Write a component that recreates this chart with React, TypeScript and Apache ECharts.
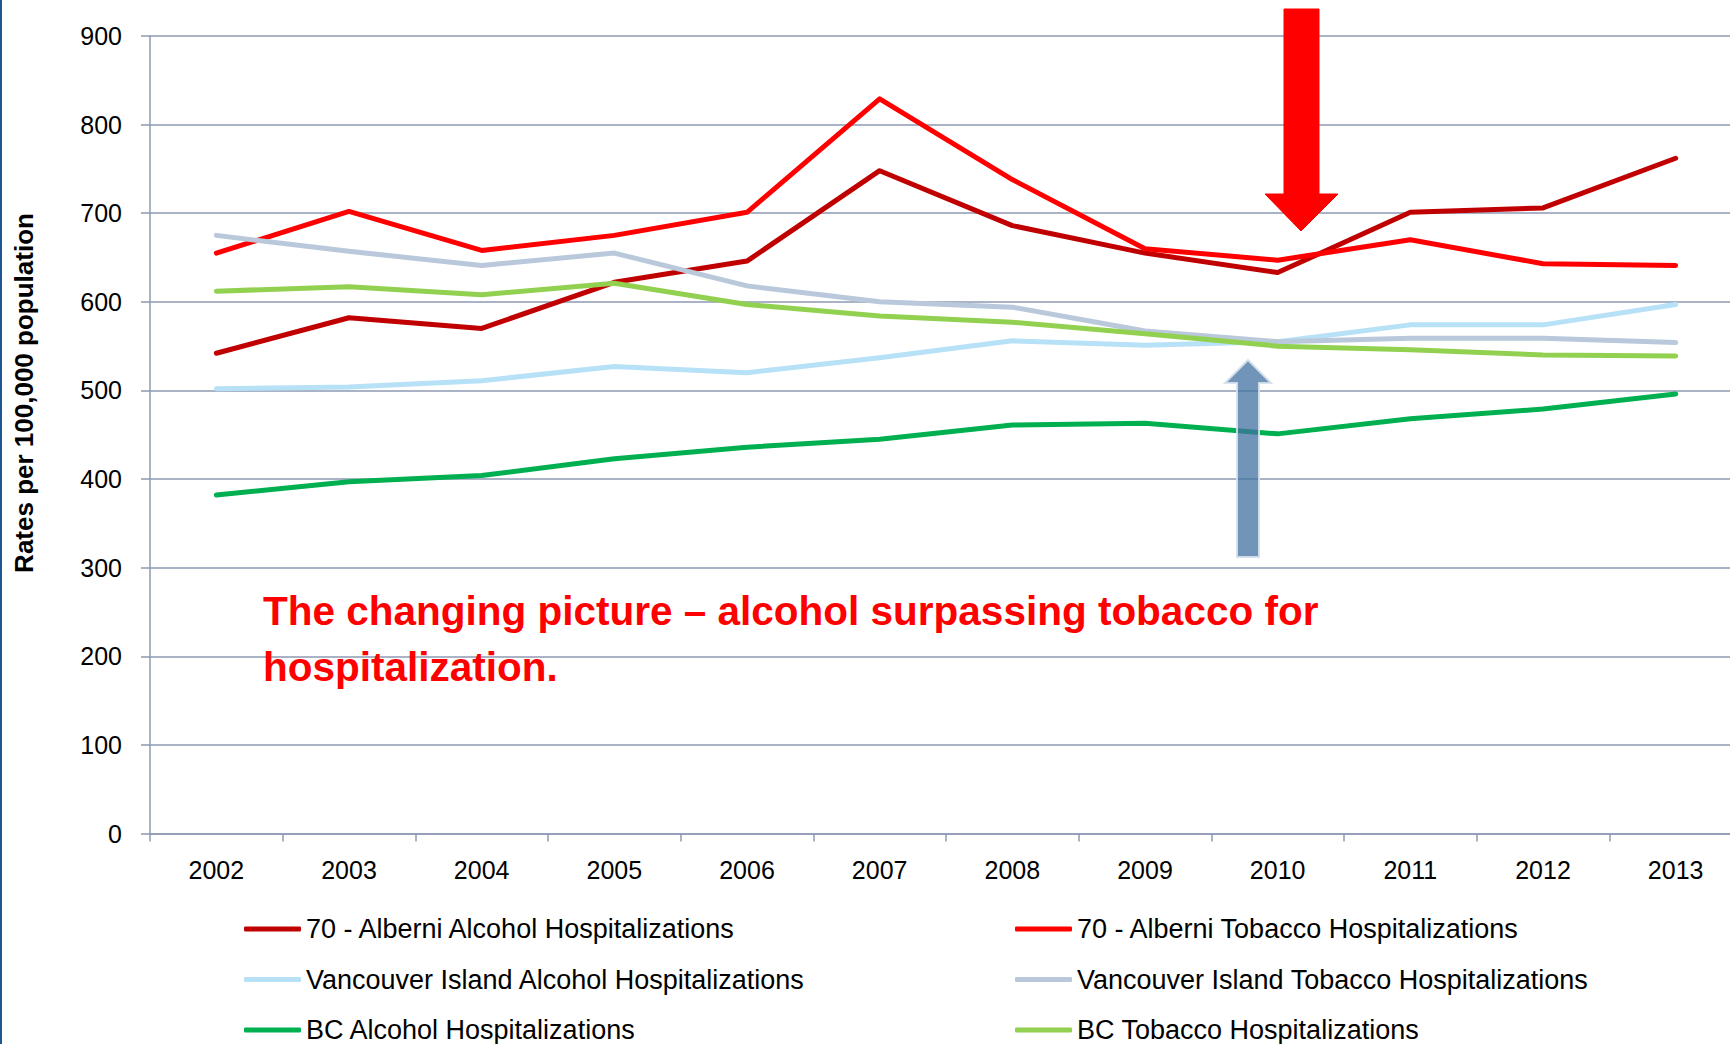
import React, { useEffect, useRef } from "react";
import * as echarts from "echarts";

const years = ["2002", "2003", "2004", "2005", "2006", "2007", "2008", "2009", "2010", "2011", "2012", "2013"];
const yTicks = { min: 0, max: 900, interval: 100 };

const alberniAlcohol = [542, 582, 570, 622, 646, 748, 686, 655, 633, 701, 706, 762];
const alberniTobacco = [655, 702, 658, 675, 701, 829, 738, 660, 647, 670, 643, 641];
const viAlcohol = [502, 504, 511, 527, 520, 537, 556, 551, 555, 574, 574, 597];
const viTobacco = [675, 657, 641, 655, 618, 600, 594, 567, 555, 559, 559, 554];
const bcAlcohol = [382, 397, 404, 423, 436, 445, 461, 463, 451, 468, 479, 496];
const bcTobacco = [612, 617, 608, 621, 597, 584, 577, 564, 550, 546, 540, 539];

const seriesNames = [
  "70 - Alberni Alcohol Hospitalizations",
  "70 - Alberni Tobacco Hospitalizations",
  "Vancouver Island Alcohol Hospitalizations",
  "Vancouver Island Tobacco Hospitalizations",
  "BC Alcohol Hospitalizations",
  "BC Tobacco Hospitalizations",
];
const seriesData = [alberniAlcohol, alberniTobacco, viAlcohol, viTobacco, bcAlcohol, bcTobacco];
const seriesColors = ["#C00000", "#FF0000", "#B7E1F7", "#B9C8DA", "#00B050", "#92D050"];

const yAxisTitle = "Rates per 100,000 population";
const annotation = "The changing picture \u2013 alcohol surpassing tobacco for\nhospitalization.";

const FONT = "'Liberation Sans', Arial, sans-serif";
const GRID_COLOR = "#8E9AB3";

export default function App() {
  const ref = useRef<HTMLDivElement>(null);

  useEffect(() => {
    if (!ref.current) return;
    const chart = echarts.init(ref.current, null, { renderer: "svg" });

    const legendText = { fontSize: 27, fontFamily: FONT, color: "#000", lineHeight: 30 };
    const legendCols = [244, 1015];
    const legendRows = [929, 979.5, 1030];

    const legends = seriesNames.map((name, i) => ({
      orient: "horizontal",
      left: legendCols[i % 2],
      top: legendRows[Math.floor(i / 2)] - 15,
      padding: 0,
      itemWidth: 57,
      itemHeight: 5,
      icon: "roundRect",
      data: [name],
      textStyle: legendText,
      selectedMode: false,
    }));

    const option: any = {
      animation: false,
      backgroundColor: "#ffffff",
      grid: { left: 150, top: 36, right: 0, bottom: 210.5, containLabel: false },
      xAxis: {
        type: "category",
        data: years,
        boundaryGap: true,
        axisLine: { show: true, lineStyle: { color: GRID_COLOR, width: 1.5 } },
        axisTick: { show: true, length: 8, interval: 0, lineStyle: { color: GRID_COLOR, width: 1.5 } },
        axisLabel: { interval: 0, margin: 24, fontSize: 25, fontFamily: FONT, color: "#000" },
        splitLine: { show: false },
      },
      yAxis: {
        type: "value",
        min: yTicks.min,
        max: yTicks.max,
        interval: yTicks.interval,
        axisLine: { show: true, lineStyle: { color: GRID_COLOR, width: 1.5 } },
        axisTick: { show: true, length: 9, lineStyle: { color: GRID_COLOR, width: 1.5 } },
        axisLabel: { margin: 28, fontSize: 25, fontFamily: FONT, color: "#000" },
        splitLine: { show: true, lineStyle: { color: GRID_COLOR, width: 1.5 } },
      },
      legend: legends,
      series: seriesNames.map((name, i) => ({
        name,
        type: "line",
        data: seriesData[i],
        showSymbol: false,
        symbol: "none",
        color: seriesColors[i],
        lineStyle: { color: seriesColors[i], width: 5, cap: "round", join: "round" },
        itemStyle: { color: seriesColors[i] },
      })),
      graphic: [
        {
          type: "rect",
          left: 0,
          top: 0,
          shape: { x: 0, y: 0, width: 2, height: 1044 },
          style: { fill: "#1F5592" },
          z: 100,
        },
        {
          type: "text",
          x: 24,
          y: 393,
          rotation: Math.PI / 2,
          style: {
            text: yAxisTitle,
            font: `bold 26px ${FONT}`,
            fill: "#000",
            textAlign: "center",
            textVerticalAlign: "middle",
          },
          z: 100,
        },
        {
          type: "text",
          x: 263,
          y: 583,
          style: {
            text: annotation,
            font: `bold 40.5px ${FONT}`,
            fill: "#FF0000",
            lineHeight: 56,
            textAlign: "left",
            textVerticalAlign: "top",
          },
          z: 100,
        },
        {
          type: "polygon",
          shape: {
            points: [
              [1284, 9],
              [1319, 9],
              [1319, 194],
              [1338, 194],
              [1301, 231],
              [1265, 194],
              [1284, 194],
            ],
          },
          style: { fill: "#FF0000", stroke: "#FF0000", lineWidth: 1 },
          z: 100,
        },
        {
          type: "polygon",
          shape: {
            points: [
              [1237, 557],
              [1259, 557],
              [1259, 383],
              [1271, 383],
              [1248, 360],
              [1225, 383],
              [1237, 383],
            ],
          },
          style: { fill: "rgba(65,113,160,0.75)", stroke: "rgba(214,224,236,0.9)", lineWidth: 2 },
          z: 100,
        },
      ],
    };

    chart.setOption(option);
    return () => chart.dispose();
  }, []);

  return (
    <div
      style={{
        position: "fixed",
        left: 0,
        top: 0,
        width: 1730,
        height: 1044,
        overflow: "hidden",
        background: "#ffffff",
      }}
    >
      <div ref={ref} style={{ width: 1742, height: 1044 }} />
    </div>
  );
}
